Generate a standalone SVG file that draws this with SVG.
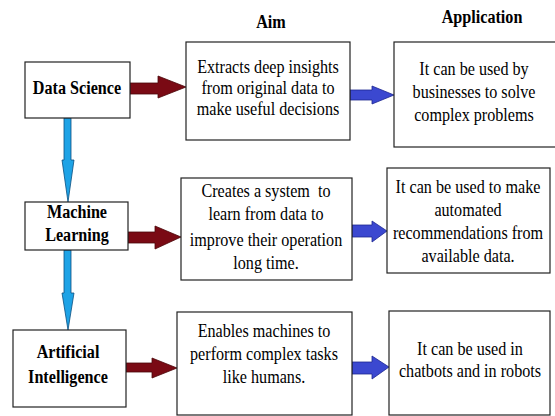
<svg xmlns="http://www.w3.org/2000/svg" width="555" height="416" viewBox="0 0 555 416">
<style>
.box{fill:#fff;stroke:#222;stroke-width:1.2}
.red{fill:#7a0a14;stroke:#4a0508;stroke-width:0.8}
.blue{fill:#3b48d0;stroke:#1c2690;stroke-width:0.8}
.lb{fill:#1ea3e6;stroke:#0b4f80;stroke-width:0.8}
</style>
<rect width="555" height="416" fill="#fff"/>
<g font-family="Liberation Serif, Times New Roman, serif" font-size="19" fill="#000" text-anchor="middle">
<g id="titles" font-weight="bold">
<text transform="translate(271,28) scale(0.85,1)">Aim</text>
<text transform="translate(482,23) scale(0.85,1)">Application</text>
</g>
<g id="connectors">
<path class="red" d="M130,83 H158 V76 L186,87 L158,98 V94 H130 Z"/>
<path class="red" d="M128,232 H155 V226 L181,237 L155,249 V243 H128 Z"/>
<path class="red" d="M126,363 H152 V358 L177,368 L152,378 V372 H126 Z"/>
<path class="blue" d="M350,90 H372 V86 L394,95 L372,104 V100 H350 Z"/>
<path class="blue" d="M352,225 H372 V221 L387,231 L372,242 V237 H352 Z"/>
<path class="blue" d="M352,362 H372 V356 L389,367 L372,379 V374 H352 Z"/>
<path class="lb" d="M64,118 V160 H62 L68,202 L74,160 H71 V118 Z"/>
<path class="lb" d="M64,250 V293 H62 L68,330 L74,293 H71 V250 Z"/>
</g>
<g id="data-science" font-weight="bold">
<rect class="box" x="25" y="62" width="105" height="56"/>
<text transform="translate(77,94) scale(0.85,1)">Data Science</text>
</g>
<g id="machine-learning" font-weight="bold">
<rect class="box" x="25" y="202" width="103" height="48"/>
<text transform="translate(77,218) scale(0.85,1)">Machine</text>
<text transform="translate(77,241) scale(0.85,1)">Learning</text>
</g>
<g id="artificial-intelligence" font-weight="bold">
<rect class="box" x="13" y="330" width="113" height="77"/>
<text transform="translate(68,358) scale(0.85,1)">Artificial</text>
<text transform="translate(68,383) scale(0.85,1)">Intelligence</text>
</g>
<g id="aim-ds">
<rect class="box" x="186" y="42" width="164" height="98"/>
<text transform="translate(268,73) scale(0.85,1)">Extracts deep insights</text>
<text transform="translate(268,94) scale(0.85,1)">from original data to</text>
<text transform="translate(268,115) scale(0.85,1)">make useful decisions</text>
</g>
<g id="app-ds">
<rect class="box" x="394" y="42" width="162" height="105"/>
<text transform="translate(474,75) scale(0.85,1)">It can be used by</text>
<text transform="translate(474,98) scale(0.85,1)">businesses to solve</text>
<text transform="translate(474,121) scale(0.85,1)">complex problems</text>
</g>
<g id="aim-ml">
<rect class="box" x="181" y="178" width="171" height="102"/>
<text transform="translate(266,197) scale(0.85,1)" xml:space="preserve">Creates a system  to</text>
<text transform="translate(266,220) scale(0.85,1)">learn from data to</text>
<text transform="translate(266,246) scale(0.85,1)">improve their operation</text>
<text transform="translate(266,269) scale(0.85,1)">long time.</text>
</g>
<g id="app-ml">
<rect class="box" x="387" y="168" width="163" height="105"/>
<text transform="translate(468,193) scale(0.85,1)">It can be used to make</text>
<text transform="translate(468,216) scale(0.85,1)">automated</text>
<text transform="translate(468,239) scale(0.85,1)">recommendations from</text>
<text transform="translate(468,262) scale(0.85,1)">available data.</text>
</g>
<g id="aim-ai">
<rect class="box" x="177" y="312" width="175" height="103"/>
<text transform="translate(264,337) scale(0.85,1)">Enables machines to</text>
<text transform="translate(264,360) scale(0.85,1)">perform complex tasks</text>
<text transform="translate(264,383) scale(0.85,1)">like humans.</text>
</g>
<g id="app-ai">
<rect class="box" x="389" y="311" width="161" height="104"/>
<text transform="translate(470,355) scale(0.85,1)">It can be used in</text>
<text transform="translate(470,377) scale(0.85,1)">chatbots and in robots</text>
</g>
</g>
</svg>
